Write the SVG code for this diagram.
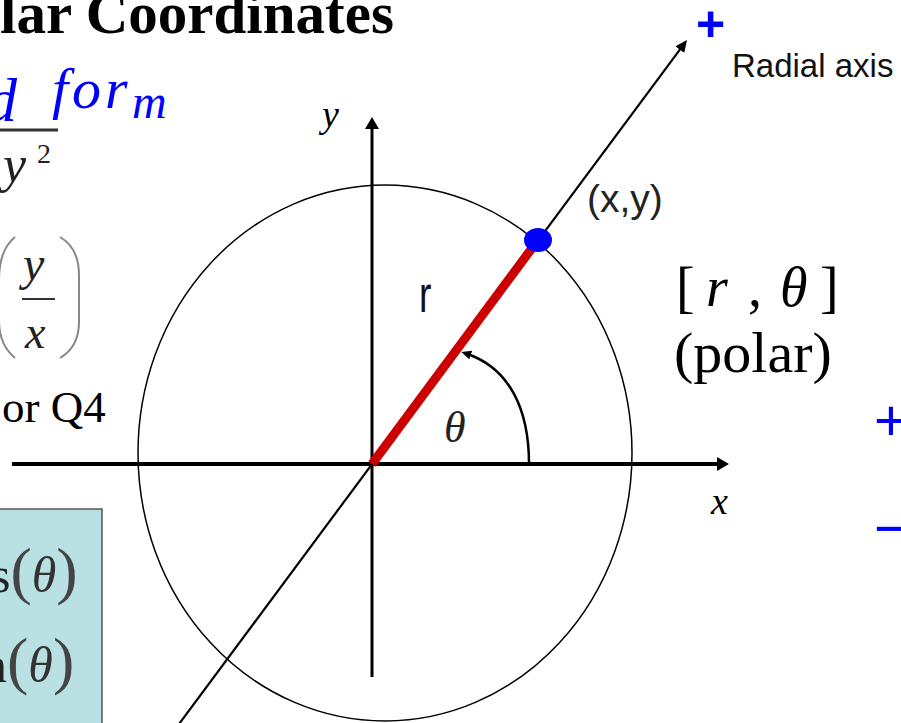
<svg xmlns="http://www.w3.org/2000/svg" width="901" height="723" viewBox="0 0 901 723">
<style>
.serif{font-family:"Liberation Serif","Times New Roman",serif}
.sans{font-family:"Liberation Sans",Arial,sans-serif}
.ink{fill:#0000ff}
.axis{stroke:#000;fill:none}
.it{font-style:italic}
</style>
<defs>
<marker id="arrL" markerUnits="userSpaceOnUse" markerWidth="14" markerHeight="16" refX="6" refY="7" orient="auto">
<path d="M0,0 L12,7 L0,14 z" fill="#000"/>
</marker>
<marker id="arrM" markerUnits="userSpaceOnUse" markerWidth="14" markerHeight="14" refX="6" refY="5.5" orient="auto">
<path d="M0,0 L12,5.5 L0,11 z" fill="#000"/>
</marker>
<marker id="arrS" markerUnits="userSpaceOnUse" markerWidth="12" markerHeight="12" refX="5" refY="4.5" orient="auto">
<path d="M0,0 L10,4.5 L0,9 z" fill="#000"/>
</marker>
</defs>
<rect width="901" height="723" fill="#fff"/>

<g id="title">
<text class="serif" x="0" y="33" font-size="59" font-weight="bold" fill="#000">lar Coordinates</text>
</g>

<g id="left-math" fill="#222">
<line x1="0" y1="130" x2="58" y2="130" stroke="#333" stroke-width="3"/>
<text class="serif it" x="3" y="182" font-size="52">y</text>
<text class="serif" x="37" y="163" font-size="28">2</text>
<path d="M15,237 Q-1,250 -1,280 L-1,320 Q-1,345 15,358" fill="none" stroke="#888" stroke-width="2"/>
<path d="M60,237 Q79,248 79,275 L79,322 Q79,347 60,358" fill="none" stroke="#888" stroke-width="2"/>
<text class="serif it" x="23" y="280" font-size="48">y</text>
<line x1="22" y1="299" x2="55" y2="299" stroke="#333" stroke-width="2"/>
<text class="serif it" x="25" y="348" font-size="46">x</text>
<text class="serif" x="2" y="422" font-size="45" fill="#000">or Q4</text>
</g>

<g id="formula-box">
<rect x="-2" y="509" width="104" height="220" fill="#b9e0e3" stroke="#555" stroke-width="1.5"/>
<text class="serif" x="-9" y="592" font-size="50" fill="#222">s<tspan font-size="64" fill="#444">(</tspan><tspan class="it" fill="#333">θ</tspan><tspan font-size="64" fill="#444">)</tspan></text>
<text class="serif" x="-18" y="682" font-size="50" fill="#222">n<tspan font-size="64" fill="#444">(</tspan><tspan class="it" fill="#333">θ</tspan><tspan font-size="64" fill="#444">)</tspan></text>
</g>

<g id="circle">
<ellipse cx="385" cy="453" rx="247" ry="268" fill="none" stroke="#000" stroke-width="1.5"/>
</g>

<g id="connectors">
<line id="x-axis" class="axis" x1="12" y1="464" x2="723" y2="464" stroke-width="4" marker-end="url(#arrL)"/>
<line id="y-axis" class="axis" x1="372" y1="677" x2="372" y2="123" stroke-width="3" marker-end="url(#arrL)"/>
<line id="radial-axis" class="axis" x1="174.6" y1="730" x2="683.4" y2="44.8" stroke-width="2.2" marker-end="url(#arrM)"/>
<line id="r-segment" x1="372" y1="464" x2="538" y2="240" stroke="#cc0000" stroke-width="9"/>
<path id="angle-arc" class="axis" d="M529,464 C529,410 510,368 466,353.5" stroke-width="2.5" marker-end="url(#arrS)"/>
</g>

<g id="point">
<ellipse cx="538" cy="240" rx="14" ry="12" fill="#0000ff"/>
</g>

<g id="labels">
<text class="serif it" x="322" y="127" font-size="38" fill="#000">y</text>
<text class="serif it" x="711" y="514" font-size="38" fill="#000">x</text>
<text class="sans" x="0" y="0" font-size="52" fill="#111" transform="translate(419,312) scale(0.72,1)">r</text>
<text class="serif it" x="444" y="442" font-size="44" fill="#222">θ</text>
<text class="sans" x="587" y="212" font-size="39" fill="#222">(x,y)</text>
<text class="sans" x="732" y="77" font-size="33" fill="#111">Radial axis</text>
<text class="serif" y="306" font-size="56" fill="#000"><tspan x="676">[</tspan><tspan x="706" class="it">r</tspan><tspan x="748">,</tspan><tspan x="780" class="it">θ</tspan><tspan x="820">]</tspan></text>
<text class="serif" x="674" y="372" font-size="58" fill="#000">(polar)</text>
</g>

<g id="ink-annotations">
<text class="serif it ink" x="-14" y="121" font-size="62">d</text>
<text class="serif it ink" x="52" y="108" font-size="58" letter-spacing="4">for</text>
<text class="serif it ink" x="132" y="118" font-size="48">m</text>
<text class="sans ink" x="696" y="41" font-size="50" font-weight="bold">+</text>
<text class="sans ink" x="874" y="440" font-size="58">+</text>
<text class="sans ink" x="874" y="548" font-size="58">−</text>
</g>
</svg>
